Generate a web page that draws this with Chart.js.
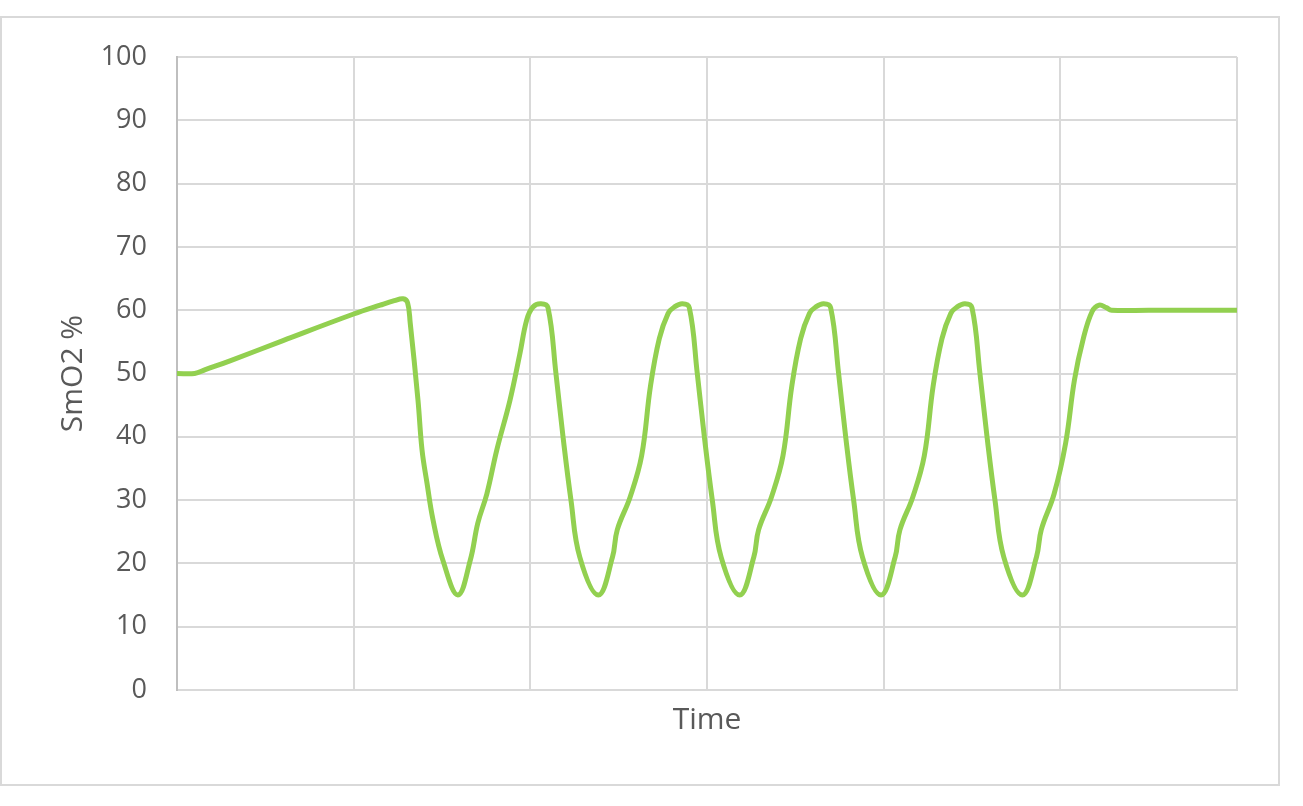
<!DOCTYPE html>
<html>
<head>
<meta charset="utf-8">
<script src="https://cdn.jsdelivr.net/npm/chart.js@4"></script>
<style>
  html, body { margin: 0; padding: 0; background: #fff; }
  #frame { position: absolute; left: 0px; top: 16px; width: 1276px; height: 766px; border: 2px solid #D9D9D9; }
  #wrap { position: absolute; left: 0; top: 0; width: 1303px; height: 806px; }
</style>
</head>
<body>
<div id="frame"></div>
<div id="wrap"><canvas id="chart" width="1303" height="806"></canvas></div>
<script>
// valeurs (temps en unités de grille x 10)
const timeVals = [
  0, 1.0, 1.6, 3.0, 6.0, 10.0, 11.5, 12.3, 12.8, 13.05, 13.2, 13.64, 13.87, 14.15, 14.49, 15.05, 15.9,
  16.6, 17.03, 17.54, 18.1, 18.85, 19.4, 19.8, 20.15, 20.6, 21.0,
  21.45, 21.85, 22.3, 22.8, 23.85, 24.65, 24.92, 25.65, 26.3, 26.8, 27.3, 27.8, 28.15, 28.6, 29.0,
  29.45, 29.85, 30.3, 30.8, 31.85, 32.65, 32.92, 33.65, 34.3, 34.8, 35.3, 35.8, 36.15, 36.6, 37.0,
  37.45, 37.85, 38.3, 38.8, 39.85, 40.65, 40.92, 41.65, 42.3, 42.8, 43.3, 43.8, 44.15, 44.6, 45.0,
  45.45, 45.85, 46.3, 46.8, 47.85, 48.65, 48.92, 49.65, 50.3, 50.8, 51.3, 51.8, 52.2, 52.6, 52.9, 55.0, 60.0
];
const smo2Vals = [
  50, 50, 50.6, 52.0, 55.2, 59.4, 60.8, 61.5, 61.8, 61.2, 58, 45.8, 37.9, 32.7, 26.9, 20.5, 15,
  20.5, 26.4, 31, 37.9, 45.8, 53, 58.5, 60.5, 61, 60.4,
  50, 40, 30, 21, 15, 21, 25.3, 30.5, 37, 48, 55.5, 59.5, 60.5, 61, 60.4,
  50, 40, 30, 21, 15, 21, 25.3, 30.5, 37, 48, 55.5, 59.5, 60.5, 61, 60.4,
  50, 40, 30, 21, 15, 21, 25.3, 30.5, 37, 48, 55.5, 59.5, 60.5, 61, 60.4,
  50, 40, 30, 21, 15, 21, 25.3, 31, 39, 49, 55.5, 59.8, 60.8, 60.4, 60.0, 60.0, 60.0
];
const yTitle = "SmO2 %";
const xTitle = "Time";

const points = timeVals.map((t, i) => ({ x: t, y: smo2Vals[i] }));

const grille = '#D9D9D9';
const texte = '#595959';

const graphe = new Chart(document.getElementById('chart'), {
    type: 'line',
    data: {
        datasets: [{
            data: points,
            borderColor: '#92D050',
            borderWidth: 5,
            pointRadius: 0,
            tension: 0.4,
            borderCapStyle: 'round',
            borderJoinStyle: 'round'
        }]
    },
    options: {
        responsive: false,
        animation: false,
        layout: { padding: { left: 0, top: 57, right: 66, bottom: 0 } },
        plugins: { legend: { display: false }, tooltip: { enabled: false } },
        scales: {
            x: {
                type: 'linear',
                min: 0,
                max: 60,
                ticks: { display: false, stepSize: 10 },
                grid: { color: grille, lineWidth: 2, drawTicks: false },
                border: { color: grille, width: 2 },
                title: {
                    display: true, text: xTitle, color: texte,
                    font: { family: 'Open Sans', size: 30 },
                    padding: { top: 68, bottom: 68 }
                },
                afterFit: (scale) => { scale.height = 116; }
            },
            y: {
                min: 0,
                max: 100,
                ticks: { stepSize: 10, color: texte, padding: 30, font: { family: 'Open Sans', size: 27 } },
                grid: { color: grille, lineWidth: 2, drawTicks: false },
                border: { color: '#BFBFBF', width: 2 },
                title: {
                    display: true, text: yTitle, color: texte,
                    font: { family: 'Open Sans', size: 30 },
                    padding: { top: 55, bottom: 55 }
                },
                afterFit: (scale) => { scale.width = 177; }
            }
        }
    }
});
</script>
</body>
</html>
